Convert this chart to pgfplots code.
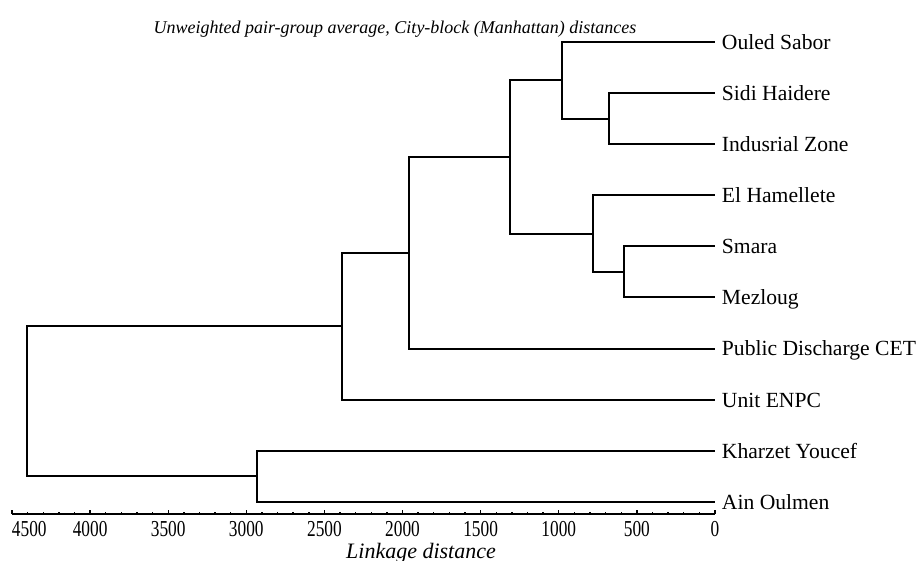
\documentclass[border=0pt]{standalone}
\usepackage{fontspec}
\setmainfont{Liberation Serif}
\newfontfamily\tickfont[FakeStretch=0.76]{Liberation Serif}
\usepackage{pgfplots}
\pgfplotsset{compat=1.18}
\tikzset{lnk/.style={black, line width=1pt, line join=miter, mark=none, solid}}
\begin{document}
\begin{tikzpicture}
\useasboundingbox (0,0) rectangle (458.5pt,280.5pt);
\begin{axis}[
  at={(6pt,23.5pt)}, anchor=south west,
  scale only axis, width=351.5pt, height=256.45pt,
  xmin=0, xmax=4500, x dir=reverse,
  ymin=-9.237, ymax=0.8,
  axis x line=bottom, axis y line=none,
  x axis line style={-, line width=0.9pt, black},
  xtick={0,500,1000,1500,2000,2500,3000,3500,4000,4500},
  xticklabels={0,500,1000,1500,2000,2500,3000,3500,4000,\makebox[0pt][l]{4500}},
  minor x tick num=4,
  tick align=inside,
  major tick length=1.8pt, minor tick length=0.8pt,
  tick style={line width=0.7pt, black},
  xticklabel style={font=\tickfont\fontsize{11.4}{13}\selectfont, inner sep=1pt, yshift=-2.6pt},
  ytick=\empty,
  clip=false,
]
% Sidi + Indusrial
\addplot[lnk] coordinates {(0,-1) (679,-1) (679,-2) (0,-2)};
% Ouled + (Sidi,Ind)
\addplot[lnk] coordinates {(0,0) (979,0) (979,-1.5) (679,-1.5)};
% Smara + Mezloug
\addplot[lnk] coordinates {(0,-4) (583,-4) (583,-5) (0,-5)};
% El Hamellete + (Smara,Mezloug)
\addplot[lnk] coordinates {(0,-3) (781,-3) (781,-4.5) (583,-4.5)};
% two groups
\addplot[lnk] coordinates {(979,-0.75) (1312,-0.75) (1312,-3.75) (781,-3.75)};
% + Public Discharge
\addplot[lnk] coordinates {(1312,-2.25) (1959,-2.25) (1959,-6) (0,-6)};
% + Unit ENPC
\addplot[lnk] coordinates {(1959,-4.125) (2388,-4.125) (2388,-7) (0,-7)};
% Kharzet + Ain
\addplot[lnk] coordinates {(0,-8) (2932,-8) (2932,-9) (0,-9)};
% root
\addplot[lnk] coordinates {(2388,-5.5625) (4404,-5.5625) (4404,-8.5) (2932,-8.5)};

\begin{scope}[every node/.style={anchor=base west, inner sep=0pt, xshift=3.3pt, yshift=-3.7pt, font=\fontsize{10.8}{13}\selectfont}]
\node at (axis cs:0,0) {Ouled Sabor};
\node at (axis cs:0,-1) {Sidi Haidere};
\node at (axis cs:0,-2) {Indusrial Zone};
\node at (axis cs:0,-3) {El Hamellete};
\node at (axis cs:0,-4) {Smara};
\node at (axis cs:0,-5) {Mezloug};
\node at (axis cs:0,-6) {Public Discharge CET};
\node at (axis cs:0,-7) {Unit ENPC};
\node at (axis cs:0,-8) {Kharzet Youcef};
\node at (axis cs:0,-9) {Ain Oulmen};
\end{scope}
\end{axis}
\node[anchor=base, inner sep=0pt, font=\itshape\fontsize{9}{11}\selectfont] at (197.5pt,263.8pt) {Unweighted pair-group average, City-block (Manhattan) distances};
\node[anchor=base, inner sep=0pt, font=\itshape\fontsize{11}{13}\selectfont] at (210.5pt,1.2pt) {Linkage distance};
\end{tikzpicture}
\end{document}
